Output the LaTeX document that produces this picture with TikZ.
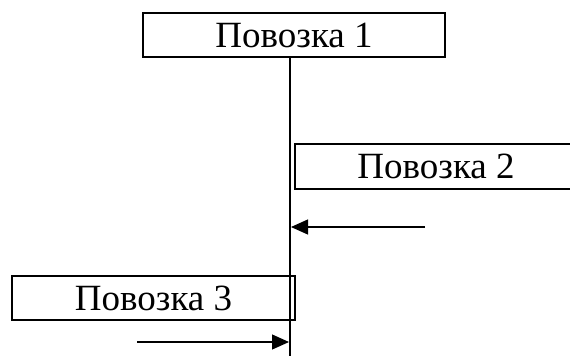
\documentclass[tikz,border=0pt]{standalone}
\usepackage{fontspec}
\setmainfont{Liberation Serif}
\usetikzlibrary{arrows.meta}

\tikzset{
    cart/.style={draw, line width=1.5pt, inner sep=0pt, font=\fontsize{37}{42}\selectfont},
    push/.style={line width=1.2pt, -{Triangle[length=17pt, width=15pt]}}
}

\begin{document}
\begin{tikzpicture}[x=1pt, y=-1pt]
    \useasboundingbox (0, 0) rectangle (570, 356);
    \clip (0, 0) rectangle (570, 356);

    % carts
    \node[cart, minimum width=302pt, minimum height=44pt] (cart1) at (294, 35) {Повозка 1};
    \node[cart, minimum width=282pt, minimum height=45pt] (cart2) at (436, 166.5) {Повозка 2};
    \node[cart, minimum width=283pt, minimum height=44pt] (cart3) at (153.5, 298) {Повозка 3};

    % dividing line
    \coordinate (linetop) at (290, 57);
    \coordinate (linebot) at (290, 356);
    \draw[line width=1.2pt] (linetop) -- (linebot);

    % pushes
    \coordinate (from2) at (425, 227);
    \coordinate (to2) at (291, 227);
    \draw[push] (from2) -- (to2);

    \coordinate (from3) at (137, 342);
    \coordinate (to3) at (289, 342);
    \draw[push] (from3) -- (to3);
\end{tikzpicture}
\end{document}
